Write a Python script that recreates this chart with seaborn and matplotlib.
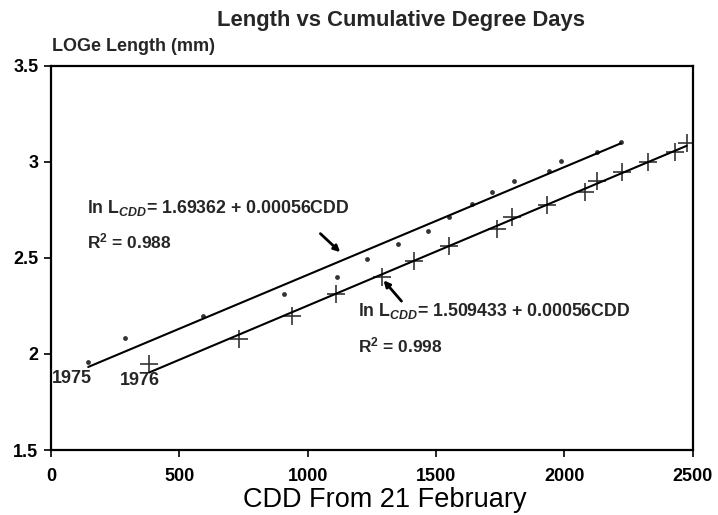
import matplotlib
matplotlib.use("Agg")
import matplotlib.pyplot as plt
import seaborn as sns
import pandas as pd

# 1975 season (dots)
cdd_1975 = [145, 288, 594, 909, 1113, 1230, 1353, 1468, 1551, 1640, 1720, 1806, 1942, 1988, 2127, 2220]
logl_1975 = [1.957, 2.082, 2.199, 2.311, 2.402, 2.493, 2.571, 2.642, 2.711, 2.780, 2.841, 2.902, 2.952, 3.006, 3.051, 3.103]

# 1976 season (crosses)
cdd_1976 = [382, 733, 940, 1109, 1289, 1416, 1551, 1737, 1795, 1932, 2081, 2127, 2224, 2325, 2432, 2477]
logl_1976 = [1.946, 2.078, 2.199, 2.311, 2.402, 2.484, 2.563, 2.649, 2.714, 2.775, 2.844, 2.900, 2.945, 3.000, 3.053, 3.099]

x_ticks = [0, 500, 1000, 1500, 2000, 2500]
y_ticks = [1.5, 2, 2.5, 3, 3.5]
y_tick_labels = ["1.5", "2", "2.5", "3", "3.5"]

df75 = pd.DataFrame({"cdd": cdd_1975, "logl": logl_1975})
df76 = pd.DataFrame({"cdd": cdd_1976, "logl": logl_1976})

sns.set_theme(style="white")
plt.rcParams["font.family"] = ["Liberation Sans", "DejaVu Sans"]
plt.rcParams["mathtext.fontset"] = "custom"
plt.rcParams["mathtext.rm"] = "Liberation Sans:bold"
plt.rcParams["mathtext.it"] = "Liberation Sans:bold:italic"
plt.rcParams["mathtext.bf"] = "Liberation Sans:bold"

fig = plt.figure(figsize=(7.18, 5.15), dpi=100)
ax = fig.add_axes([0.071, 0.126, 0.8935, 0.7465])

sns.regplot(data=df75, x="cdd", y="logl", ax=ax, ci=None, truncate=True,
            marker="o", color="black",
            scatter_kws={"s": 12, "linewidths": 0},
            line_kws={"linewidth": 1.5})
sns.regplot(data=df76, x="cdd", y="logl", ax=ax, ci=None, truncate=True,
            marker="+", color="black",
            scatter_kws={"s": 150, "linewidths": 1.2},
            line_kws={"linewidth": 1.5})

ax.set_xlim(0, 2500)
ax.set_ylim(1.5, 3.5)
ax.set_xticks(x_ticks)
ax.set_yticks(y_ticks)
ax.set_yticklabels(y_tick_labels)
ax.tick_params(axis="both", direction="out", length=5, width=1.2, colors="black",
               labelsize=13, bottom=True, left=True, pad=4)
for lab in ax.get_xticklabels() + ax.get_yticklabels():
    lab.set_fontweight("bold")
ax.tick_params(axis="x", pad=8)
for sp in ax.spines.values():
    sp.set_color("black")
    sp.set_linewidth(1.6)

ax.set_xlabel("CDD From 21 February", fontsize=19.5, labelpad=1, color="black")
ax.xaxis.label.set_x(0.52)
ax.set_ylabel("")

fig.text(0.559, 0.961, "Length vs Cumulative Degree Days", ha="center", va="center",
         fontsize=15.8, fontweight="bold")
fig.text(0.072, 0.909, "LOGe Length (mm)", ha="left", va="center",
         fontsize=13, fontweight="bold")

# equation labels
ax.text(140, 2.76, r"ln L$_{\mathit{CDD}}$= 1.69362 + 0.00056CDD", fontsize=12.8,
        fontweight="bold", ha="left", va="center")
ax.text(140, 2.583, r"R$^{2}$ = 0.988", fontsize=12.5, fontweight="bold", ha="left", va="center")
ax.text(1196, 2.224, r"ln L$_{\mathit{CDD}}$= 1.509433 + 0.00056CDD", fontsize=12.8,
        fontweight="bold", ha="left", va="center")
ax.text(1196, 2.047, r"R$^{2}$ = 0.998", fontsize=12.5, fontweight="bold", ha="left", va="center")

ax.annotate("", xy=(1135, 2.52), xytext=(1042, 2.636),
            arrowprops=dict(arrowstyle="-|>", color="black", lw=2, mutation_scale=9))
ax.annotate("", xy=(1289, 2.394), xytext=(1373, 2.264),
            arrowprops=dict(arrowstyle="-|>", color="black", lw=2, mutation_scale=9))

ax.text(5, 1.875, "1975", fontsize=13, fontweight="bold", ha="left", va="center")
ax.text(270, 1.86, "1976", fontsize=13, fontweight="bold", ha="left", va="center")

fig.savefig("out.png", dpi=100)
